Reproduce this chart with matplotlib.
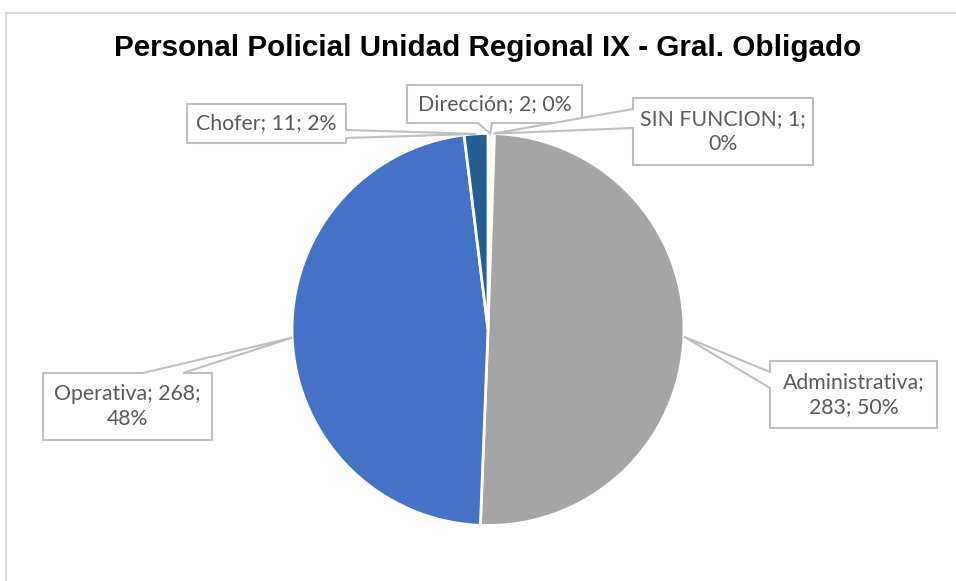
import matplotlib
matplotlib.use("Agg")
import numpy as np
import matplotlib.pyplot as plt
from matplotlib.patches import Polygon, Rectangle

# data, clockwise from the top
labels = ["Dirección", "SIN FUNCION", "Administrativa", "Operativa", "Chofer"]
values = [2, 1, 283, 268, 11]
percents = ["0%", "0%", "50%", "48%", "2%"]
colors = ["#F7F7F7", "#F7F7F7", "#A5A5A5", "#4472C4", "#255E91"]

W, H = 956, 581

def Y(y):
    # pixel row -> data y
    return H - y

fig = plt.figure(figsize=(W / 100, H / 100), dpi=100)
ax = fig.add_axes([0, 0, 1, 1])

cx, cy, r = 488, 329.5, 196
wedges, _ = ax.pie(values, colors=colors, startangle=90, counterclock=False,
                   center=(cx, Y(cy)), radius=r,
                   wedgeprops=dict(edgecolor="white", linewidth=2))
ax.set_xlim(0, W)
ax.set_ylim(0, H)
ax.set_aspect("equal")
ax.axis("off")

# chart frame
ax.add_patch(Rectangle((6, Y(700)), 1200, 687, fill=False, edgecolor="#D9D9D9", linewidth=1.5))

ax.text(488, Y(48), "Personal Policial Unidad Regional IX - Gral. Obligado",
        ha="center", va="center", fontsize=21.3, fontweight="bold",
        family=["Liberation Sans", "DejaVu Sans"], color="black")

# label boxes: (x0, y0, x1, y1), side of the pointer, pointer base along that side, text lines
boxes = {
    "Dirección": ((407, 85, 582, 123), "bottom", (478, 492), ["Dirección; 2; 0%"]),
    "SIN FUNCION": ((633, 98, 813, 165), "left", (109, 128), ["SIN FUNCION; 1;", "0%"]),
    "Administrativa": ((770, 361, 937, 428), "left", (372, 388), ["Administrativa;", "283; 50%"]),
    "Operativa": ((43, 373, 212, 440), "top", (143, 183), ["Operativa; 268;", "48%"]),
    "Chofer": ((187, 104, 346, 143), "right", (130, 138), ["Chofer; 11; 2%"]),
}

for w, lab in zip(wedges, labels):
    (x0, y0, x1, y1), side, (b0, b1), lines = boxes[lab]
    mid = np.deg2rad((w.theta1 + w.theta2) / 2)
    tx = w.center[0] + r * np.cos(mid)
    ty = w.center[1] + r * np.sin(mid)
    tip = (tx, H - ty)
    if side == "top":
        pts = [(x0, y0), (b0, y0), tip, (b1, y0), (x1, y0), (x1, y1), (x0, y1)]
    elif side == "bottom":
        pts = [(x0, y0), (x1, y0), (x1, y1), (b1, y1), tip, (b0, y1), (x0, y1)]
    elif side == "left":
        pts = [(x0, y0), (x1, y0), (x1, y1), (x0, y1), (x0, b1), tip, (x0, b0)]
    else:
        pts = [(x0, y0), (x1, y0), (x1, b0), tip, (x1, b1), (x1, y1), (x0, y1)]
    pts = [(px, Y(py)) for px, py in pts]
    ax.add_patch(Polygon(pts, closed=True, facecolor="white", edgecolor="#BFBFBF",
                         linewidth=1.5, zorder=3))
    ax.text((x0 + x1) / 2, Y((y0 + y1) / 2), "\n".join(lines), ha="center", va="center",
            fontsize=15.3, family=["Lato", "DejaVu Sans"], color="#595959",
            linespacing=1.3, zorder=4)

fig.savefig("out.png", dpi=100, facecolor="white")
